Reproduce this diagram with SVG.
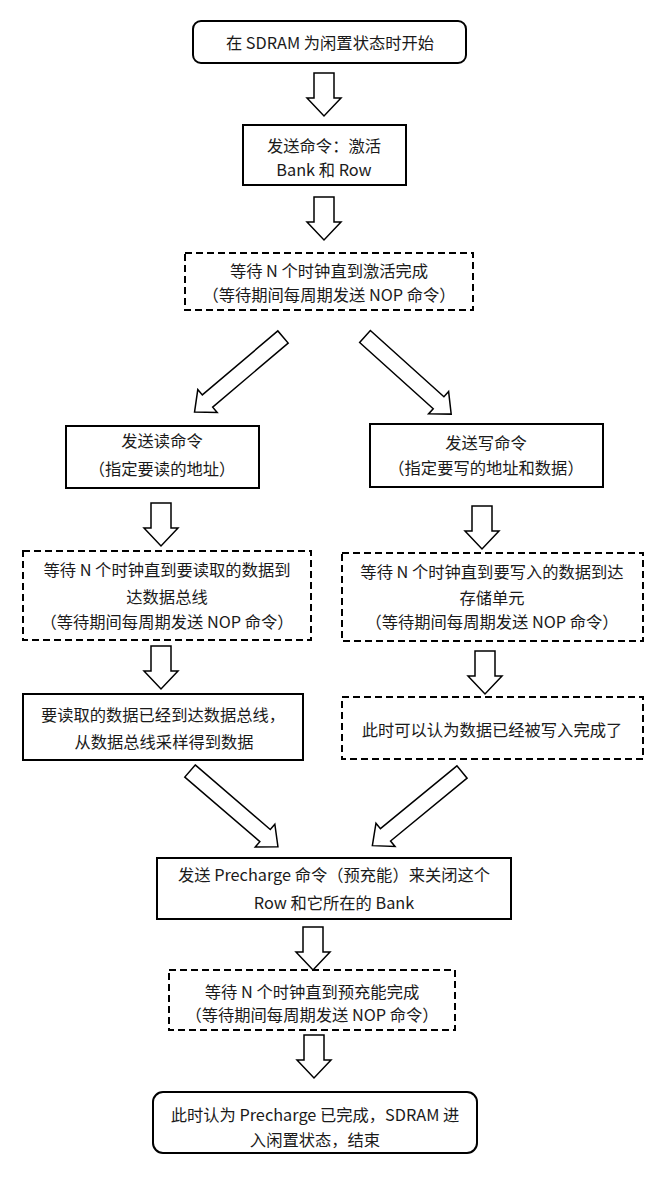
<svg xmlns="http://www.w3.org/2000/svg" width="666" height="1178" viewBox="0 0 666 1178">
<style>
.box{fill:#fff;stroke:#000;stroke-width:2}
.dash{fill:#fff;stroke:#000;stroke-width:2;stroke-dasharray:7 4}
.arr{fill:#fff;stroke:#000;stroke-width:1.5;stroke-linejoin:miter}
text{font-family:"Noto Sans CJK SC","Noto Sans",sans-serif;font-size:16.3px;fill:#1a1a1a;text-anchor:middle}
</style>
<defs>
<path id="down" d="M-10,0 H10 V25 H17 L0,43 L-17,25 H-10 Z"/>
<path id="diag" d="M0,-8 H99 V-15 L116,0 L99,15 V8 H0 Z"/>
</defs>
<rect width="666" height="1178" fill="#fff"/>
<g id="connectors">
<use href="#down" class="arr" transform="translate(324,73)"/>
<use href="#down" class="arr" transform="translate(324,197)"/>
<use href="#diag" class="arr" transform="translate(283,337) rotate(139.7)"/>
<use href="#diag" class="arr" transform="translate(365,336.5) rotate(42)"/>
<use href="#down" class="arr" transform="translate(161,503)"/>
<use href="#down" class="arr" transform="translate(482,506)"/>
<use href="#down" class="arr" transform="translate(161,646)"/>
<use href="#down" class="arr" transform="translate(485,651)"/>
<use href="#diag" class="arr" transform="translate(190,771) rotate(40.7)"/>
<use href="#diag" class="arr" transform="translate(462,772) rotate(140.6)"/>
<use href="#down" class="arr" transform="translate(313,927)"/>
<use href="#down" class="arr" transform="translate(314,1035)"/>
</g>
<g id="start">
<rect class="box" x="193" y="21" width="273" height="42" rx="8"/>
<text x="330" y="49">在 SDRAM 为闲置状态时开始</text>
</g>
<g id="activate">
<rect class="box" x="243" y="125" width="163" height="60"/>
<text x="324" y="152">发送命令：激活</text>
<text x="324" y="175.5">Bank 和 Row</text>
</g>
<g id="wait-activate">
<rect class="dash" x="185" y="253" width="288" height="57"/>
<text x="329" y="277">等待 N 个时钟直到激活完成</text>
<text x="329" y="300.5">（等待期间每周期发送 NOP 命令）</text>
</g>
<g id="read-cmd">
<rect class="box" x="66" y="426" width="193" height="62"/>
<text x="162" y="447">发送读命令</text>
<text x="162" y="475">（指定要读的地址）</text>
</g>
<g id="write-cmd">
<rect class="box" x="370" y="424" width="233" height="63"/>
<text x="486" y="448.5">发送写命令</text>
<text x="486" y="474">（指定要写的地址和数据）</text>
</g>
<g id="wait-read">
<rect class="dash" x="23" y="551" width="288" height="89"/>
<text x="167" y="575.5">等待 N 个时钟直到要读取的数据到</text>
<text x="167" y="602.5">达数据总线</text>
<text x="167" y="627.5">（等待期间每周期发送 NOP 命令）</text>
</g>
<g id="wait-write">
<rect class="dash" x="342" y="553" width="301" height="88"/>
<text x="492" y="577.5">等待 N 个时钟直到要写入的数据到达</text>
<text x="492" y="603.5">存储单元</text>
<text x="492" y="627.5">（等待期间每周期发送 NOP 命令）</text>
</g>
<g id="read-done">
<rect class="box" x="23" y="694" width="280" height="66"/>
<text x="163" y="720.5">要读取的数据已经到达数据总线，</text>
<text x="164" y="747.5">从数据总线采样得到数据</text>
</g>
<g id="write-done">
<rect class="dash" x="342" y="697" width="301" height="62"/>
<text x="492" y="735.5">此时可以认为数据已经被写入完成了</text>
</g>
<g id="precharge">
<rect class="box" x="157" y="858" width="354" height="61"/>
<text x="334" y="880.5">发送 Precharge 命令（预充能）来关闭这个</text>
<text x="334" y="908.5">Row 和它所在的 Bank</text>
</g>
<g id="wait-precharge">
<rect class="dash" x="169" y="970" width="286" height="60"/>
<text x="312" y="997.5">等待 N 个时钟直到预充能完成</text>
<text x="312" y="1020.5">（等待期间每周期发送 NOP 命令）</text>
</g>
<g id="end">
<rect class="box" x="153" y="1092" width="324" height="61" rx="10"/>
<text x="315" y="1120.5">此时认为 Precharge 已完成，SDRAM 进</text>
<text x="315" y="1145.5">入闲置状态，结束</text>
</g>
</svg>
